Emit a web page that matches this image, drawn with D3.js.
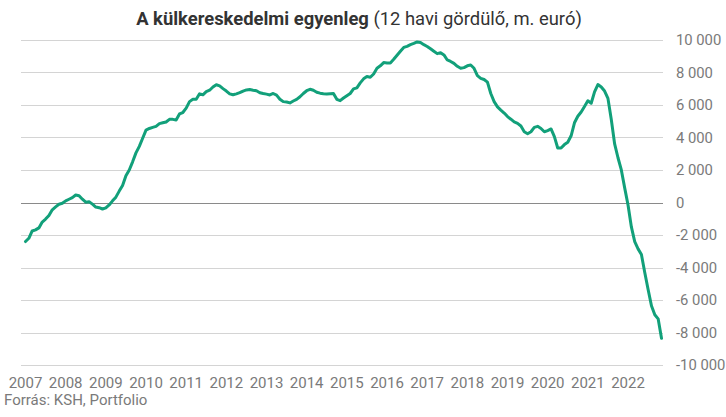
<!DOCTYPE html>
<html><head><meta charset="utf-8">
<script src="https://cdn.jsdelivr.net/npm/d3@7"></script>
<style>body{margin:0;background:#fff}svg{display:block}</style>
</head><body><svg id="c" width="726" height="417"></svg>
<script>
// 12-month rolling trade balance, million EUR, monthly from Jan 2007 to Nov 2022
const firstYear = 2007;
const balance = [
-2400,-2200,-1750,-1680,-1560,-1200,-1020,-800,-450,-270,-110,-50,
100,200,300,460,420,200,20,50,-100,-280,-320,-400,
-330,-150,100,330,700,1050,1650,2000,2500,3050,3450,3950,
4450,4550,4620,4680,4850,4900,4950,5110,5110,5070,5440,5530,
5800,6200,6340,6340,6680,6620,6810,6900,7100,7240,7170,7000,
6850,6680,6620,6680,6750,6850,6920,6940,6900,6870,6750,6700,
6660,6610,6700,6600,6350,6200,6180,6120,6240,6340,6500,6700,
6870,6960,6900,6780,6720,6690,6670,6690,6700,6340,6260,6420,
6560,6700,6980,7050,7350,7600,7740,7700,7900,8250,8400,8600,
8580,8580,8800,9050,9300,9530,9600,9700,9780,9870,9830,9700,
9590,9450,9300,9150,9210,9070,8760,8670,8550,8370,8250,8290,
8400,8450,8250,7800,7630,7560,7400,6700,6200,5880,5680,5500,
5280,5120,4950,4860,4700,4350,4230,4350,4620,4680,4550,4350,
4420,4520,4050,3350,3350,3560,3700,4100,4900,5300,5560,5900,
6250,6100,6800,7250,7100,6850,6400,5100,3600,2750,2000,900,
-150,-1500,-2400,-2850,-3200,-4300,-5350,-6350,-6900,-7150,-8350
];
const yTickValues = [10000,8000,6000,4000,2000,0,-2000,-4000,-6000,-8000,-10000];
const yearLabels = [2007,2008,2009,2010,2011,2012,2013,2014,2015,2016,2017,2018,2019,2020,2021,2022];
const titleBold = "A külkereskedelmi egyenleg";
const titleRest = " (12 havi gördülő, m. euró)";
const sourceText = "Forrás: KSH, Portfolio";

const svg = d3.select("#c");
const FONT = "Roboto,sans-serif";
const x = d3.scaleLinear().domain([0, balance.length - 1]).range([25.5, 661.5]);
const y = d3.scaleLinear().domain([-10000, 10000]).range([365.2, 39.8]);
const loc = d3.formatLocale({decimal: ",", thousands: " ", grouping: [3], currency: ["", ""], minus: "-"});
const fmt = loc.format(",d");

// gridlines
svg.append("g").selectAll("line").data(yTickValues).join("line")
  .attr("x1", 21).attr("x2", 663)
  .attr("y1", d => Math.round(y(d)) + 0.5).attr("y2", d => Math.round(y(d)) + 0.5)
  .attr("stroke", d => d === 0 ? "#8a8a8a" : "#d4d4d4").attr("stroke-width", 1);

// right axis labels
svg.append("g").selectAll("text").data(yTickValues).join("text")
  .attr("x", 676).attr("y", d => y(d)).attr("dy", "0.35em")
  .attr("font-family", FONT).attr("font-size", 14.8).attr("fill", "#7a7a7a")
  .text(d => fmt(d));

// year labels
svg.append("g").selectAll("text").data(yearLabels).join("text")
  .attr("x", d => x((d - firstYear) * 12)).attr("y", 388)
  .attr("text-anchor", "middle")
  .attr("font-family", FONT).attr("font-size", 15).attr("fill", "#7a7a7a")
  .text(d => d);

// line
const line = d3.line().x((d, i) => x(i)).y(d => y(d));
svg.append("path").datum(balance)
  .attr("d", line).attr("fill", "none")
  .attr("stroke", "#12a07a").attr("stroke-width", 3)
  .attr("stroke-linejoin", "round").attr("stroke-linecap", "round");

// title
const t = svg.append("text").attr("x", 359).attr("y", 25.3).attr("text-anchor", "middle")
  .attr("font-family", FONT).attr("font-size", 18.4).attr("fill", "#333");
t.append("tspan").attr("font-weight", "bold").text(titleBold);
t.append("tspan").text(titleRest);

// source
svg.append("text").attr("x", 4).attr("y", 405)
  .attr("font-family", FONT).attr("font-size", 15).attr("fill", "#7a7a7a")
  .text(sourceText);
</script></body></html>
